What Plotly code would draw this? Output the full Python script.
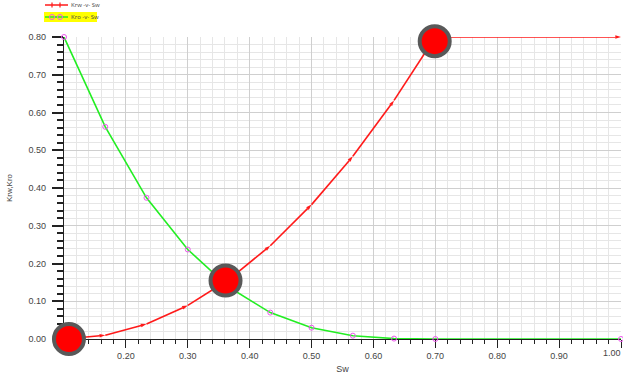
import plotly.graph_objects as go

# Relative permeability table
sw = [0.1, 0.1667, 0.2333, 0.3, 0.3667, 0.4333, 0.5, 0.5667, 0.6333, 0.7, 1.0]
krw = [0.0, 0.0099, 0.0395, 0.0889, 0.158, 0.247, 0.356, 0.484, 0.632, 0.8, 0.8]
kro = [0.8, 0.562, 0.374, 0.237, 0.137, 0.070, 0.030, 0.0088, 0.0011, 0.0, 0.0]

# Highlighted points: connate water, crossover, residual oil end point
hl_sw = [0.108, 0.361, 0.699]
hl_kr = [0.0, 0.155, 0.789]

x_ticks = [0.1, 0.2, 0.3, 0.4, 0.5, 0.6, 0.7, 0.8, 0.9, 1.0]
x_labels = ["", "0.20", "0.30", "0.40", "0.50", "0.60", "0.70", "0.80", "0.90", ""]
x_last_label = "1.00"
y_ticks = [0.0, 0.1, 0.2, 0.3, 0.4, 0.5, 0.6, 0.7, 0.8]

W, H = 623, 374
ML, MR, MT, MB = 64, 2, 37, 35
PW, PH = W - ML - MR, H - MT - MB

RED = "#ff1a1a"
GREEN = "#22ee22"
MAG = "#ee55ee"


def px(x):
    return (x - ML) / PW


def py(y):
    return (H - MB - y) / PH


fig = go.Figure()

fig.add_trace(go.Scatter(
    x=sw, y=kro, mode="lines+markers", name="Kro -v- Sw",
    line=dict(color=GREEN, width=1.6),
    marker=dict(symbol="circle-open", size=5, color=MAG, line=dict(width=1)),
    cliponaxis=False, showlegend=False,
))
fig.add_trace(go.Scatter(
    x=sw, y=krw, mode="lines+markers", name="Krw -v- Sw",
    line=dict(color=RED, width=1.6),
    marker=dict(symbol="arrow", size=6, color=RED, angleref="previous"),
    cliponaxis=False, showlegend=False,
))
fig.add_trace(go.Scatter(
    x=hl_sw, y=hl_kr, mode="markers",
    marker=dict(symbol="circle", size=30, color="#ff0000",
                line=dict(color="#595959", width=4)),
    cliponaxis=False, showlegend=False,
))

# Compact legend drawn in the top-left corner
shapes = []
annotations = []
# row 1: Krw
shapes.append(dict(type="line", xref="paper", yref="paper",
                   x0=px(45), x1=px(68), y0=py(5), y1=py(5),
                   line=dict(color=RED, width=1.5)))
for cx in (52, 60):
    shapes.append(dict(type="line", xref="paper", yref="paper",
                       x0=px(cx), x1=px(cx), y0=py(2.5), y1=py(7.5),
                       line=dict(color=RED, width=1.2)))
annotations.append(dict(text="Krw -v- Sw", xref="paper", yref="paper",
                        x=px(69), y=py(5), xanchor="left", yanchor="middle",
                        showarrow=False, font=dict(size=6, color="#444")))
# row 2: Kro (highlighted)
shapes.append(dict(type="rect", xref="paper", yref="paper",
                   x0=px(44), x1=px(97), y0=py(12), y1=py(22),
                   fillcolor="#ffff00", line=dict(width=0)))
shapes.append(dict(type="line", xref="paper", yref="paper",
                   x0=px(45), x1=px(68), y0=py(17), y1=py(17),
                   line=dict(color=GREEN, width=1.5)))
for cx in (52, 60):
    shapes.append(dict(type="circle", xref="paper", yref="paper",
                       x0=px(cx - 2.5), x1=px(cx + 2.5), y0=py(14.5), y1=py(19.5),
                       line=dict(color=MAG, width=1)))
annotations.append(dict(text="Kro -v- Sw", xref="paper", yref="paper",
                        x=px(69), y=py(17), xanchor="left", yanchor="middle",
                        showarrow=False, font=dict(size=6, color="#444")))

axis_font = dict(family="Liberation Sans", size=9, color="#444")

# last x tick label, kept inside the page
annotations.append(dict(text=x_last_label, xref="x", yref="paper",
                        x=x_ticks[-1], y=py(353), xanchor="right", yanchor="middle",
                        xshift=2, showarrow=False, font=axis_font))

fig.update_layout(
    width=W, height=H,
    margin=dict(l=ML, r=MR, t=MT, b=MB),
    paper_bgcolor="white", plot_bgcolor="white",
    shapes=shapes, annotations=annotations,
    xaxis=dict(
        range=[0.1, 1.0], tickvals=x_ticks, ticktext=x_labels,
        automargin=False, layer="below traces",
        ticks="outside", ticklen=8, tickcolor="#222", tickwidth=1,
        showline=True, linecolor="#222", linewidth=1.2,
        showgrid=True, gridcolor="#cfcfcf", gridwidth=1,
        minor=dict(dtick=0.02, tick0=0.1, ticks="outside", ticklen=4,
                   tickcolor="#222", showgrid=True, gridcolor="#e6e6e6"),
        tickfont=axis_font, zeroline=False,
        title=dict(text="Sw", font=dict(family="Liberation Sans", size=9, color="#444"),
                   standoff=6),
    ),
    yaxis=dict(
        range=[0.0, 0.8], tickvals=y_ticks, tickformat=".2f",
        automargin=False, layer="below traces",
        ticks="outside", ticklen=11, tickcolor="#222", tickwidth=1.5,
        ticklabelstandoff=4,
        showline=True, linecolor="#222", linewidth=1.2,
        showgrid=True, gridcolor="#cfcfcf", gridwidth=1,
        minor=dict(dtick=0.02, tick0=0.0, ticks="outside", ticklen=6,
                   tickcolor="#222", showgrid=True, gridcolor="#e6e6e6"),
        tickfont=axis_font, zeroline=False,
        title=dict(text="Krw,Kro", font=dict(family="Liberation Sans", size=8, color="#444"),
                   standoff=14),
    ),
)

fig.write_html("out.html")
